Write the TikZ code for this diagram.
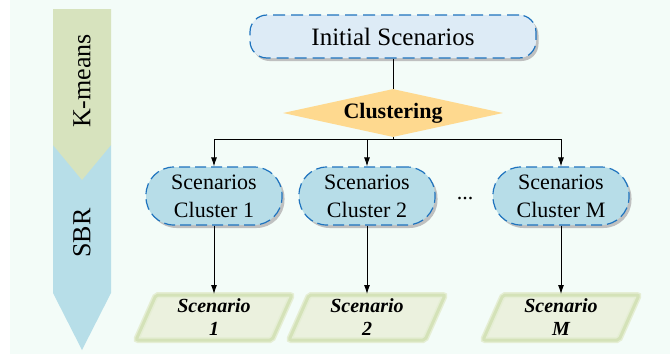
\documentclass[tikz,border=0pt]{standalone}
\usepackage{fontspec}
\setmainfont{Liberation Serif}
\usetikzlibrary{shapes.geometric,shadows,arrows.meta,calc}
\definecolor{bgmint}{RGB}{243,252,248}
\definecolor{kmeans}{RGB}{215,227,190}
\definecolor{sbr}{RGB}{183,222,232}
\definecolor{initfill}{RGB}{221,235,246}
\definecolor{dashblue}{RGB}{30,115,190}
\definecolor{clusfill}{RGB}{183,221,232}
\definecolor{diafill}{RGB}{254,217,143}
\definecolor{scenfill}{RGB}{235,241,222}
\definecolor{scenedge}{RGB}{212,226,184}
\begin{document}
\begin{tikzpicture}[x=1pt,y=-1pt,
  conn/.style={draw=black,line width=0.9pt},
  arr/.style={conn,-{Latex[length=9pt,width=6pt]}},
  shad/.style={drop shadow={shadow xshift=2.5pt,shadow yshift=-3pt,fill=gray!60,opacity=0.8}},
  initbox/.style={shad,draw=dashblue,line width=1.2pt,dash pattern=on 12pt off 6pt,fill=initfill,rounded corners=17pt,minimum width=286pt,minimum height=43pt,inner sep=0pt,font=\fontsize{25}{30}\selectfont},
  clusbox/.style={shad,draw=dashblue,line width=1.2pt,dash pattern=on 11pt off 5pt,fill=clusfill,rounded corners=28pt,minimum width=136pt,minimum height=58pt,inner sep=0pt,align=center,font=\fontsize{22}{28}\selectfont},
  diabox/.style={diamond,fill=diafill,minimum width=220pt,minimum height=48pt,inner sep=0pt,aspect=4.6,font=\bfseries\fontsize{22}{26}\selectfont},
  scenglow/.style={draw=scenedge!60,line width=6pt,fill=scenfill,rounded corners=2pt},
  scenedgeline/.style={draw=scenedge,line width=3pt,rounded corners=2pt},
  scentext/.style={align=center,inner sep=0pt,font=\bfseries\itshape\fontsize{20}{23}\selectfont},
  sidetext/.style={rotate=90,inner sep=0pt,font=\fontsize{26}{30}\selectfont}
]
\useasboundingbox (0,0) rectangle (670,354);
\fill[white] (0,0) rectangle (670,354);
\fill[bgmint] (10,0) rectangle (670,354);

% side arrow
\fill[sbr] (53,145) -- (111,145) -- (111,293) -- (82,350) -- (53,293) -- cycle;
\fill[kmeans] (53,9) -- (111,9) -- (111,145) -- (82,180) -- (53,145) -- cycle;
\node[sidetext] (km) at (82,81) {K-means};
\node[sidetext] (sb) at (82,233) {SBR};

% top
\node[initbox] (init) at (393,36.5) {Initial Scenarios};
\node[diabox] (clu) at (393,113) {Clustering};
\coordinate (hl) at (393,139);
\coordinate (hlL) at (214,139);
\coordinate (hlR) at (561,139);

% clusters
\node[clusbox] (c1) at (214,196) {Scenarios\\Cluster 1};
\node[clusbox] (c2) at (367,196) {Scenarios\\Cluster 2};
\node[clusbox] (cM) at (561,196) {Scenarios\\Cluster M};
\node[inner sep=0pt,font=\fontsize{22}{26}\selectfont] (dots) at (465,199) {...};

% scenarios
\foreach \n/\x in {1/214,2/367,M/561}{
  \coordinate (q\n) at (\x,317.5);
  \path[scenglow] ($(q\n)+(-58,-22.5)$) -- ($(q\n)+(78,-22.5)$) -- ($(q\n)+(58,22.5)$) -- ($(q\n)+(-78,22.5)$) -- cycle;
  \path[scenedgeline] ($(q\n)+(-58,-22.5)$) -- ($(q\n)+(78,-22.5)$) -- ($(q\n)+(58,22.5)$) -- ($(q\n)+(-78,22.5)$) -- cycle;
  \coordinate (t\n) at (\x,294);
}
\node[scentext] (s1) at (q1) {Scenario\\1};
\node[scentext] (s2) at (q2) {Scenario\\2};
\node[scentext] (sM) at (qM) {Scenario\\M};

% connectors
\draw[conn] (init.south) -- (clu.north);
\draw[conn] (clu.south) -- (hl);
\draw[conn] (hlL) -- (hlR);
\draw[arr] (hlL) -- (c1.north);
\draw[arr] (c2.north |- hl) -- (c2.north);
\draw[arr] (hlR) -- (cM.north);
\draw[arr] (c1.south) -- (t1);
\draw[arr] (c2.south) -- (t2);
\draw[arr] (cM.south) -- (tM);
\end{tikzpicture}
\end{document}
